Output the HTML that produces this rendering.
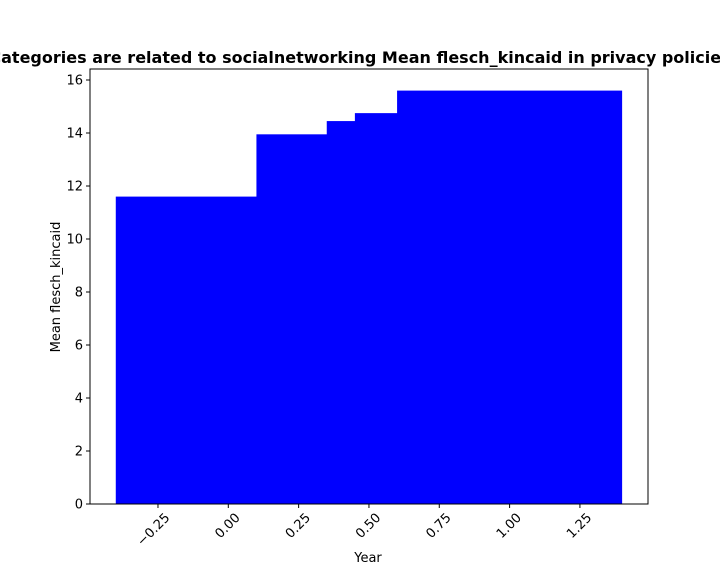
<!DOCTYPE html>
<html><head><meta charset="utf-8"><style>
body{margin:0;background:#fff;}
svg text{font-family:"DejaVu Sans","Liberation Sans",sans-serif;}
</style></head><body>
<svg id="chart" width="720" height="576" xmlns="http://www.w3.org/2000/svg">
<text x="360" y="63" text-anchor="middle" font-size="16" font-weight="bold">Categories are related to socialnetworking Mean flesch_kincaid in privacy policies</text>
<g id="bars"></g>
<rect x="90" y="69" width="558" height="435" fill="none" stroke="#000" stroke-width="1"/>
<g id="xticks"></g><g id="yticks"></g>
<text x="368" y="562" text-anchor="middle" font-size="13">Year</text>
<text transform="translate(60,287) rotate(-90)" text-anchor="middle" font-size="13">Mean flesch_kincaid</text>
</svg>
<script>
const barCenters=[0,0.5,0.75,0.85,1.0];
const barValues=[11.6,13.95,14.45,14.75,15.6];
const barWidth=0.8;
const xTicks=[-0.25,0,0.25,0.5,0.75,1.0,1.25];
const xTickLabels=["\u22120.25","0.00","0.25","0.50","0.75","1.00","1.25"];
const yTicks=[0,2,4,6,8,10,12,14,16];
const NS="http://www.w3.org/2000/svg";
const sx=v=>228.3+v*281.3;
const sy=v=>504-v*26.5;
const bars=document.getElementById('bars');
barCenters.forEach((c,i)=>{
 const r=document.createElementNS(NS,'rect');
 r.setAttribute('x',sx(c-barWidth/2));
 r.setAttribute('width',sx(c+barWidth/2)-sx(c-barWidth/2));
 r.setAttribute('y',sy(barValues[i]));
 r.setAttribute('height',sy(0)-sy(barValues[i]));
 r.setAttribute('fill','#0000ff');
 
 
 bars.appendChild(r);
});
const xg=document.getElementById('xticks');
xTicks.forEach((t,i)=>{
 const x=sx(t);
 const l=document.createElementNS(NS,'line');
 l.setAttribute('x1',x);l.setAttribute('x2',x);l.setAttribute('y1',504);l.setAttribute('y2',508);l.setAttribute('stroke','#000');
 
 
 xg.appendChild(l);
 const tx=document.createElementNS(NS,'text');
 tx.setAttribute('transform','translate('+(x+6)+',512) rotate(-45)');
 tx.setAttribute('text-anchor','end');tx.setAttribute('font-size','13');tx.setAttribute('dy','0.7em');
 tx.textContent=xTickLabels[i];
 
 
 xg.appendChild(tx);
});
const yg=document.getElementById('yticks');
yTicks.forEach(t=>{
 const y=sy(t);
 const l=document.createElementNS(NS,'line');
 l.setAttribute('x1',86);l.setAttribute('x2',90);l.setAttribute('y1',y);l.setAttribute('y2',y);l.setAttribute('stroke','#000');
 
 
 yg.appendChild(l);
 const tx=document.createElementNS(NS,'text');
 tx.setAttribute('x',83);tx.setAttribute('y',y+4.5);tx.setAttribute('text-anchor','end');tx.setAttribute('font-size','13');
 tx.textContent=t;
 
 
 yg.appendChild(tx);
});
</script>
</body></html>
